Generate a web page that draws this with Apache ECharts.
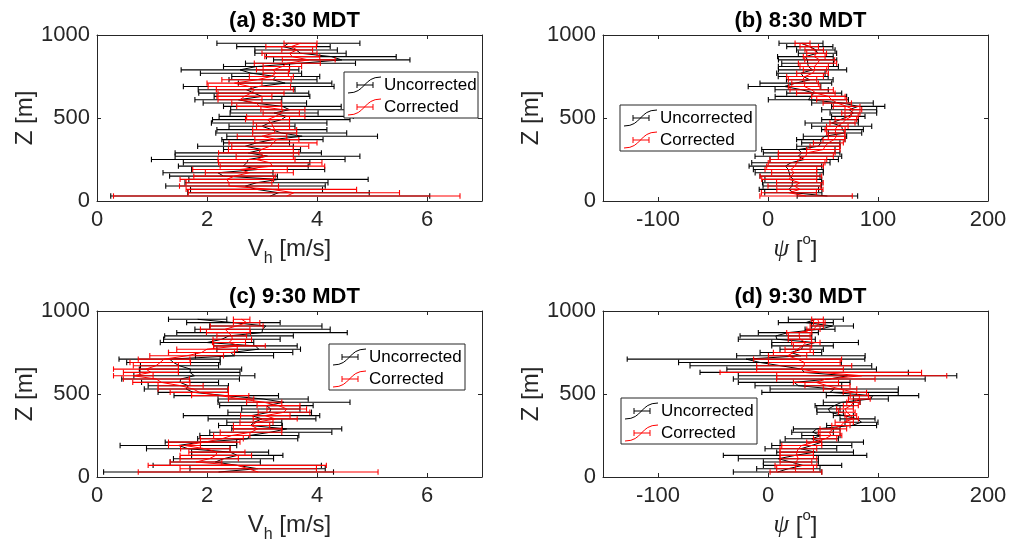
<!DOCTYPE html>
<html><head><meta charset="utf-8">
<script src="https://cdn.jsdelivr.net/npm/echarts@6/dist/echarts.min.js"></script>
<style>html,body{margin:0;padding:0;background:#fff}#c{width:1010px;height:557px}</style>
</head><body><div id="c"></div>
<script>
// ---------------- data ----------------
const Z = [950,930,910,890,870,850,830,810,790,770,750,730,710,690,670,650,630,610,590,570,550,530,510,490,470,450,430,410,390,370,350,330,310,290,270,250,230,210,190,170,150,130,110,90,70,50,30];

const titles = ['(a) 8:30 MDT','(b) 8:30 MDT','(c) 9:30 MDT','(d) 9:30 MDT'];
const legendNames = ['Uncorrected','Corrected'];
const vTicks = [0,2,4,6];
const psiTicks = [-100,0,100,200];
const zTicks = [0,500,1000];

// (a) 8:30 horizontal speed [m/s]
const aUnc    = [3.48,3.39,3.62,3.70,4.26,4.45,3.70,2.90,2.60,2.80,3.25,3.20,3.42,2.94,2.72,2.85,3.00,2.57,2.87,3.37,3.50,3.22,3.44,3.35,3.13,3.00,3.18,3.35,3.73,3.19,2.90,2.70,3.00,2.75,3.10,2.75,2.72,2.66,2.93,2.20,2.30,3.30,2.90,2.70,2.90,3.30,3.15];
const aUncErr = [1.30,0.85,0.75,0.83,1.18,1.24,1.00,0.60,1.07,0.92,0.80,0.80,0.85,1.37,0.88,1.00,0.87,0.79,0.94,1.07,1.07,0.80,1.22,1.25,1.05,0.60,1.00,1.19,1.37,0.92,0.60,0.87,0.70,1.33,1.68,1.76,1.15,1.18,1.21,1.00,0.98,1.63,1.30,1.45,1.20,1.65,2.90];
const aCor    = [3.70,3.53,3.64,3.50,3.55,3.85,3.46,3.37,3.20,3.25,3.17,2.90,2.50,2.77,2.87,2.80,2.68,2.60,2.90,2.95,3.38,3.35,3.25,3.10,3.17,3.20,3.23,3.23,3.00,3.27,3.20,3.15,2.98,2.94,3.05,2.90,3.15,3.19,2.60,2.77,2.50,2.36,2.40,2.40,3.17,3.58,3.45];
const aCorErr = [0.30,0.46,0.28,0.50,0.50,0.48,0.60,0.35,0.30,0.23,0.40,0.63,0.50,0.75,0.70,0.60,0.50,0.40,0.45,0.41,0.40,0.33,0.53,0.40,0.33,0.30,0.40,0.40,0.45,0.40,0.80,0.70,0.59,0.73,0.52,0.70,0.94,0.95,0.86,0.80,0.74,0.85,0.78,0.90,1.55,1.92,3.15];

// (b) 8:30 wind direction [deg]
const bUnc    = [30,38,43.5,45,34,36,36,36.7,40.5,29.9,32,38,25.3,15,30.6,42,39,36.7,67.7,82,73.8,77.6,73,65.5,57.9,67,67.7,70,51.8,48,48,45.8,27.6,30.6,27.6,32.9,20.8,15.8,18.5,19.3,20,23,22,22,19,23,54];
const bUncErr = [20,21,17.5,17.4,25.3,26.5,23.5,27.3,31,22,22.7,21.2,32.6,33,24.2,25,32.5,36.4,28,24.2,25,21.2,15.2,16.7,24.2,27.3,19,15.2,19.7,22,17.4,19.7,33.3,34.8,39.4,31.1,35.6,33,31.8,31,27.3,25.8,27,26.5,27,26,27.5];
const bCor    = [31.4,37.5,42,44.2,42,47,45,42,42.7,40.5,33.7,31.4,33.7,32.9,39.7,43.5,54.9,57.9,63,71.5,77.6,75.3,76,70.8,67.7,63,61,61.6,62.4,60,54.9,51.8,50.3,35.2,34.4,27.6,26,24.6,20.8,23.8,20.8,19.3,29,24,29,19,34.6];
const bCorErr = [6.8,8.4,8.4,9,9.9,13.6,17.4,12.9,10.6,14.4,16.7,12.9,12.1,14.4,19.7,17.5,15.2,13.6,12.9,12.1,7.6,8.3,6,9.8,11.4,9.8,9.1,8.3,7.6,10,13.6,13.6,15.2,25.8,25,25.8,25.8,25.8,23.5,20.5,28,25,21.2,24,21,25,42];

// (c) 9:30 horizontal speed [m/s]
const cUnc    = [1.83,2.48,3.07,3.01,3.00,2.40,2.27,2.00,2.88,2.94,2.43,2.50,1.32,1.39,1.50,1.70,1.69,1.77,1.52,1.51,1.66,1.62,1.75,2.35,3.02,3.40,3.08,3.16,3.14,2.81,3.00,2.86,2.79,3.45,3.16,2.77,2.74,1.89,1.48,1.66,2.42,2.55,2.30,2.15,2.55,2.92,2.21];
const cUncErr = [0.53,0.85,1.02,1.23,1.55,1.17,1.06,0.85,0.76,0.76,1.13,0.71,0.92,0.85,0.71,0.93,0.91,1.10,1.07,0.70,0.73,0.76,0.64,0.95,0.82,1.20,0.85,0.53,0.76,1.24,0.98,0.50,0.58,1.00,1.11,0.90,0.91,0.65,1.06,0.76,0.70,0.83,0.91,0.82,1.53,1.23,2.09];
const cCor    = [2.63,2.72,2.54,2.33,2.39,2.45,2.46,2.40,2.59,2.00,1.90,1.63,1.22,1.15,1.07,0.89,0.98,0.66,1.08,1.17,1.52,1.75,1.86,2.24,2.62,3.04,3.30,3.45,3.40,3.06,3.24,2.90,2.81,2.92,2.80,2.45,2.27,1.95,1.59,1.97,2.18,2.16,2.04,1.80,2.55,2.75,2.93];
const cCorErr = [0.15,0.24,0.48,0.45,0.40,0.27,0.35,0.30,0.47,0.55,0.60,0.67,0.47,0.55,0.41,0.59,0.50,0.36,0.60,0.52,0.41,0.64,0.53,0.52,0.23,0.32,0.39,0.36,0.47,0.45,0.40,0.30,0.33,0.44,0.56,0.33,0.39,0.65,0.29,0.45,0.51,0.65,0.53,0.47,1.62,1.24,2.18];

// (d) 9:30 wind direction [deg]
const dUnc    = [43.5,34.4,58.7,47.3,18.5,7.2,8,42.8,31.4,30.6,20.8,29.9,-20,-7.3,11.7,30.6,32.9,72.3,55.7,23.8,27.6,60.2,56.4,95,93.5,67,60.2,54.9,56.5,68.5,81.4,85,76,44.3,40.5,48.1,39.8,48.9,39.8,29.9,42.8,24.6,9.4,20.8,31.4,18.5,8.7];
const dUncErr = [25,25,19,13.6,27.3,32.6,35,39.4,28,19.7,28,58.4,108,74,82.6,68,94.7,99.3,87.2,50.8,39.4,58.3,62,42,15.9,16.7,17.4,10.6,12,9.1,15.9,15,22.7,21.2,18.9,17.4,24.2,37.9,36.4,32.6,34.9,65.2,36.4,25,35.6,28.8,40.2];
const dCor    = [45,46.6,44.3,41.3,28.4,28.4,29,34.4,31.4,26.9,23.1,17.8,26.9,33,32.9,29.1,48,85.2,52.6,43.6,54.1,65.5,79,83,83,77.6,75.3,70,71.6,75.3,76.9,69.3,66.3,59.4,55.7,57.2,51.9,42,30.7,27.6,26.1,26.1,27.6,25.4,25.4,24.6,25.4];
const dCorErr = [5.3,5.3,6,6,11.4,9.9,10.6,12.9,8.3,11.4,18.2,17.4,40,32.6,43.2,39.4,91.6,77.3,44.7,20.5,20.5,15.2,10.6,8.3,9.9,6,6.8,7.6,7.6,5.3,5.3,8.3,8.3,12.1,9.9,9.9,10.6,6.8,18.2,16.7,15.2,15.2,16.7,14.4,19,16.7,23.5];

// ---------------- chart ----------------
const FONT = '"Liberation Sans", Arial, Helvetica, sans-serif';
const AX = '#262626';
const panels = [
  {unc:aUnc, uncErr:aUncErr, cor:aCor, corErr:aCorErr, kind:'v'},
  {unc:bUnc, uncErr:bUncErr, cor:bCor, corErr:bCorErr, kind:'psi'},
  {unc:cUnc, uncErr:cUncErr, cor:cCor, corErr:cCorErr, kind:'v'},
  {unc:dUnc, uncErr:dUncErr, cor:dCor, corErr:dCorErr, kind:'psi'}
];
const gridBoxes = [
  {left:97, top:35, width:385, height:166},
  {left:603, top:35, width:385, height:166},
  {left:97, top:311, width:385, height:166},
  {left:603, top:311, width:385, height:166}
];
const legendBoxes = [
  {left:344, top:72, width:134, height:46},
  {left:620, top:105, width:136, height:46},
  {left:329, top:344, width:136, height:46},
  {left:621, top:398, width:136, height:46}
];

const grids = [], xAxes = [], yAxes = [], series = [], titleList = [], graphics = [];

const vName = '{n|V}{s|h}{n| [m/s]}';
const psiName = '{p|ψ}{n| [}{o|o}{n|]}';
const nameRich = {
  n:{fontSize:24, fontFamily:FONT, color:AX, lineHeight:36, verticalAlign:'middle'},
  s:{fontSize:16, fontFamily:FONT, color:AX, verticalAlign:'bottom'},
  p:{fontSize:25, fontFamily:'"Liberation Serif", "DejaVu Serif", serif', fontStyle:'italic', color:AX, lineHeight:36, verticalAlign:'middle'},
  o:{fontSize:15, fontFamily:FONT, color:AX, verticalAlign:'top'}
};

function errRender(color){
  return function(params, api){
    const c = api.value(0), z = api.value(1), e = api.value(2);
    const p1 = api.coord([c - e, z]), p2 = api.coord([c + e, z]);
    const h = 2.7;
    const st = {stroke:color, lineWidth:1.1};
    return {type:'group', children:[
      {type:'line', shape:{x1:p1[0], y1:p1[1], x2:p2[0], y2:p2[1]}, style:st},
      {type:'line', shape:{x1:p1[0], y1:p1[1]-h, x2:p1[0], y2:p1[1]+h}, style:st},
      {type:'line', shape:{x1:p2[0], y1:p2[1]-h, x2:p2[0], y2:p2[1]+h}, style:st}
    ]};
  };
}

panels.forEach((p, i) => {
  const g = gridBoxes[i];
  grids.push(Object.assign({containLabel:false}, g));
  const isV = p.kind === 'v';
  const xr = isV ? {min:0, max:7} : {min:-150, max:200};
  const xt = isV ? vTicks : psiTicks;
  const axLine = {show:true, onZero:false, lineStyle:{color:AX, width:1}};
  xAxes.push({
    gridIndex:i, type:'value', position:'bottom', min:xr.min, max:xr.max,
    axisLine:axLine,
    axisTick:{show:true, inside:true, length:4, customValues:xt, lineStyle:{color:AX}},
    axisLabel:{show:true, customValues:xt, fontSize:22, fontFamily:FONT, color:AX, margin:8, formatter:v => String(v)},
    splitLine:{show:false},
    name: isV ? vName : psiName, nameLocation:'middle', nameGap:30,
    nameTextStyle:{rich:nameRich}
  });
  xAxes.push({
    gridIndex:i, type:'value', position:'top', min:xr.min, max:xr.max,
    axisLine:axLine,
    axisTick:{show:true, inside:true, length:4, customValues:xt, lineStyle:{color:AX}},
    axisLabel:{show:false}, splitLine:{show:false}
  });
  yAxes.push({
    gridIndex:i, type:'value', position:'left', min:0, max:1000, interval:500,
    axisLine:axLine,
    axisTick:{show:true, inside:true, length:4, customValues:zTicks, lineStyle:{color:AX}},
    axisLabel:{show:true, customValues:zTicks, fontSize:22, fontFamily:FONT, color:AX, margin:7, formatter:v => String(v)},
    splitLine:{show:false},
    name:'Z [m]', nameLocation:'middle', nameRotate:90, nameGap:54,
    nameTextStyle:{fontSize:24, fontFamily:FONT, color:AX}
  });
  yAxes.push({
    gridIndex:i, type:'value', position:'right', min:0, max:1000, interval:500,
    axisLine:axLine,
    axisTick:{show:true, inside:true, length:4, customValues:zTicks, lineStyle:{color:AX}},
    axisLabel:{show:false}, splitLine:{show:false}
  });

  const sets = [
    {v:p.unc, e:p.uncErr, color:'#000000', zz:2},
    {v:p.cor, e:p.corErr, color:'#ff0000', zz:4}
  ];
  sets.forEach(s => {
    series.push({
      type:'custom', xAxisIndex:2*i, yAxisIndex:2*i, z:s.zz, silent:true,
      renderItem: errRender(s.color),
      encode:{x:0, y:1},
      data: Z.map((z, k) => [s.v[k], z, s.e[k]])
    });
    series.push({
      type:'line', xAxisIndex:2*i, yAxisIndex:2*i, z:s.zz+1, silent:true,
      symbol:'none', lineStyle:{color:s.color, width:1}, 
      data: Z.map((z, k) => [s.v[k], z])
    });
  });

  titleList.push({
    text: titles[i], left: g.left + g.width/2, top: i >= 2 ? 281 : 5, textAlign:'center',
    textStyle:{fontSize:22, fontWeight:'bold', fontFamily:FONT, color:'#000'}
  });

  // legend
  const L = legendBoxes[i];
  graphics.push({type:'rect', shape:{x:L.left, y:L.top, width:L.width, height:L.height},
    style:{fill:'#fff', stroke:AX, lineWidth:1}, z:100});
  ['#000000','#ff0000'].forEach((col, r) => {
    const y = L.top + 13 + r*22;
    const x = L.left;
    graphics.push({type:'bezierCurve', shape:{x1:x+4, y1:y+8, cpx1:x+22, cpy1:y+8, cpx2:x+19, cpy2:y-8, x2:x+37, y2:y-8},
      style:{stroke:col, lineWidth:1, fill:null}, z:101});
    graphics.push({type:'line', shape:{x1:x+13, y1:y, x2:x+29, y2:y}, style:{stroke:col, lineWidth:1}, z:101});
    graphics.push({type:'line', shape:{x1:x+13, y1:y-3, x2:x+13, y2:y+3}, style:{stroke:col, lineWidth:1}, z:101});
    graphics.push({type:'line', shape:{x1:x+29, y1:y-3, x2:x+29, y2:y+3}, style:{stroke:col, lineWidth:1}, z:101});
    graphics.push({type:'text', x:x+40, y:y, style:{text:legendNames[r], fontSize:17, fontFamily:FONT, fill:'#000', verticalAlign:'middle', align:'left'}, z:101});
  });
});

const chart = echarts.init(document.getElementById('c'), null, {renderer:'canvas'});
chart.setOption({
  animation:false,
  backgroundColor:'#fff',
  title:titleList,
  grid:grids, xAxis:xAxes, yAxis:yAxes, series:series,
  graphic:graphics
});
</script></body></html>
